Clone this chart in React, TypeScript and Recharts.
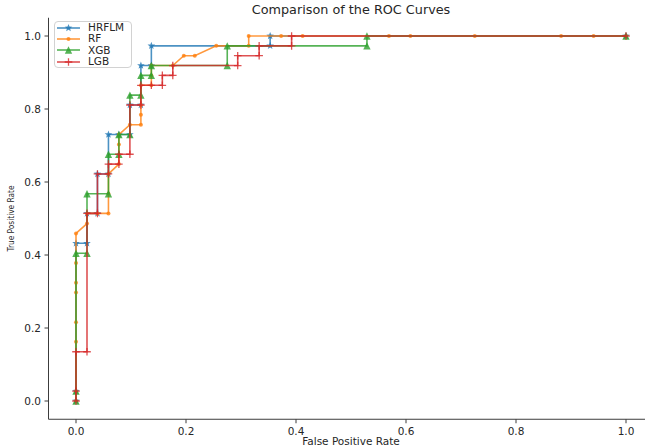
import React from 'react';
import { ScatterChart, Scatter, XAxis, YAxis, Legend } from 'recharts';

// ---- data (FPR / TPR pairs) ----
const hrflmFpr = [0, 0, 0, 0.020, 0.020, 0.039, 0.039, 0.059, 0.059, 0.078, 0.098, 0.098, 0.118, 0.118, 0.137, 0.137, 0.353, 0.353, 1];
const hrflmTpr = [0, 0.027, 0.432, 0.432, 0.514, 0.514, 0.622, 0.622, 0.730, 0.730, 0.730, 0.811, 0.811, 0.919, 0.919, 0.973, 0.973, 1, 1];

const rfFpr = [0, 0, 0, 0, 0, 0, 0, 0, 0.020, 0.020, 0.039, 0.059, 0.059, 0.059, 0.078, 0.078, 0.078, 0.098, 0.118, 0.118, 0.118, 0.118, 0.137, 0.137, 0.137, 0.176, 0.196, 0.216, 0.255, 0.314, 0.314, 0.373, 0.412, 0.569, 0.608, 0.725, 0.882, 0.941, 1];
const rfTpr = [0, 0.027, 0.162, 0.216, 0.297, 0.324, 0.378, 0.459, 0.486, 0.514, 0.514, 0.514, 0.568, 0.622, 0.649, 0.703, 0.730, 0.757, 0.757, 0.784, 0.811, 0.865, 0.865, 0.892, 0.919, 0.919, 0.946, 0.946, 0.973, 0.973, 1, 1, 1, 1, 1, 1, 1, 1, 1];

const xgbFpr = [0, 0, 0, 0.020, 0.020, 0.059, 0.059, 0.078, 0.078, 0.098, 0.098, 0.118, 0.118, 0.137, 0.137, 0.275, 0.275, 0.529, 0.529, 1];
const xgbTpr = [0, 0.027, 0.405, 0.405, 0.568, 0.568, 0.676, 0.676, 0.730, 0.730, 0.838, 0.838, 0.892, 0.892, 0.919, 0.919, 0.973, 0.973, 1, 1];

const lgbFpr = [0, 0, 0, 0.020, 0.020, 0.039, 0.039, 0.059, 0.059, 0.078, 0.078, 0.098, 0.098, 0.118, 0.118, 0.137, 0.157, 0.157, 0.176, 0.176, 0.294, 0.294, 0.333, 0.333, 0.392, 0.392, 1];
const lgbTpr = [0, 0.027, 0.135, 0.135, 0.514, 0.514, 0.622, 0.622, 0.649, 0.649, 0.676, 0.676, 0.811, 0.811, 0.865, 0.865, 0.865, 0.892, 0.892, 0.919, 0.919, 0.946, 0.946, 0.973, 0.973, 1, 1];

const seriesNames = ['HRFLM', 'RF', 'XGB', 'LGB'];
const xTicks = [0, 0.2, 0.4, 0.6, 0.8, 1.0];
const yTicks = [0, 0.2, 0.4, 0.6, 0.8, 1.0];
const titleText = 'Comparison of the ROC Curves';
const xLabelText = 'False Positive Rate';
const yLabelText = 'True Positive Rate';

const COLORS: Record<string, string> = {
  HRFLM: '#1f77b4',
  RF: '#ff7f0e',
  XGB: '#2ca02c',
  LGB: '#d62728',
};

const FONT = '"DejaVu Sans", sans-serif';
const TEXT = '#262626';
const SPINE = '#3c3c3c';
const OP = 0.8;

const toPoints = (f: number[], t: number[]) => f.map((x, i) => ({ x, y: t[i] }));

const seriesData: Record<string, { x: number; y: number }[]> = {
  HRFLM: toPoints(hrflmFpr, hrflmTpr),
  RF: toPoints(rfFpr, rfTpr),
  XGB: toPoints(xgbFpr, xgbTpr),
  LGB: toPoints(lgbFpr, lgbTpr),
};

// ---- marker glyphs ----
function starPath(cx: number, cy: number, ro: number, ri: number) {
  let d = '';
  for (let i = 0; i < 10; i++) {
    const r = i % 2 === 0 ? ro : ri;
    const a = -Math.PI / 2 + (i * Math.PI) / 5;
    d += (i === 0 ? 'M' : 'L') + (cx + r * Math.cos(a)).toFixed(2) + ',' + (cy + r * Math.sin(a)).toFixed(2);
  }
  return d + 'Z';
}

function Marker({ name, cx, cy }: { name: string; cx: number; cy: number }) {
  const c = COLORS[name];
  if (name === 'HRFLM') {
    return <path d={starPath(cx, cy, 4, 1.7)} fill={c} fillOpacity={OP} />;
  }
  if (name === 'RF') {
    return <circle cx={cx} cy={cy} r={2} fill={c} fillOpacity={OP} />;
  }
  if (name === 'XGB') {
    const s = 3.7;
    return (
      <path
        d={`M${cx},${cy - s}L${cx - s},${cy + s}L${cx + s},${cy + s}Z`}
        fill={c}
        fillOpacity={OP}
      />
    );
  }
  const s = 3.8;
  return (
    <path
      d={`M${cx - s},${cy}L${cx + s},${cy}M${cx},${cy - s}L${cx},${cy + s}`}
      stroke={c}
      strokeOpacity={OP}
      strokeWidth={1.3}
    />
  );
}

const makeShape = (name: string) => (props: any) => {
  const { cx, cy } = props;
  if (cx == null || cy == null) return <g />;
  return <Marker name={name} cx={cx} cy={cy} />;
};

const LegendBox = () => (
  <div
    style={{
      border: '1px solid #d2d2d2',
      borderRadius: 4,
      background: 'rgba(255,255,255,0.85)',
      padding: '0px 2px 0px 2px',
      fontFamily: FONT,
      fontSize: 10.5,
      color: TEXT,
      width: 72,
    }}
  >
    {seriesNames.map((name) => (
      <div key={name} style={{ display: 'flex', alignItems: 'center', height: 11.3 }}>
        <svg width={23} height={10} style={{ display: 'block' }}>
          <line x1={0} y1={5} x2={23} y2={5} stroke={COLORS[name]} strokeOpacity={OP} strokeWidth={1.6} />
          <Marker name={name} cx={11.5} cy={5} />
        </svg>
        <span style={{ marginLeft: 8, lineHeight: '11px' }}>{name}</span>
      </div>
    ))}
  </div>
);

// bottom-axis label: draws the x-axis title and the chart title
const XLabel = () => (
  <g>
    <text x={351} y={13.5} textAnchor="middle" fontSize={12.8} fill={TEXT} fontFamily={FONT}>
      {titleText}
    </text>
    <text x={351} y={444.5} textAnchor="middle" fontSize={10.5} fill={TEXT} fontFamily={FONT}>
      {xLabelText}
    </text>
  </g>
);

const YLabel = () => {
  const cx = 11;
  const cy = 218.5;
  return (
    <text
      x={cx}
      y={cy}
      transform={`rotate(-90 ${cx} ${cy})`}
      textAnchor="middle"
      dominantBaseline="central"
      fontSize={8.5}
      fill={TEXT}
      fontFamily={FONT}
      textLength={66}
      lengthAdjust="spacingAndGlyphs"
    >
      {yLabelText}
    </text>
  );
};

export default function App() {
  return (
    <div
      style={{
        position: 'absolute',
        left: 0,
        top: 0,
        width: 645,
        height: 447,
        overflow: 'hidden',
        background: '#fff',
      }}
    >
      <ScatterChart
        width={680}
        height={447}
        margin={{ top: 17.75, right: 26.5, bottom: 0, left: 8.5 }}
        style={{ fontFamily: FONT }}
      >
        <XAxis
          xAxisId={0}
          type="number"
          dataKey="x"
          domain={[-0.05, 1.05]}
          allowDataOverflow
          ticks={xTicks}
          interval={0}
          tickFormatter={(v: number) => v.toFixed(1)}
          height={27.75}
          tickSize={4}
          tickMargin={4}
          axisLine={{ stroke: SPINE, strokeWidth: 1 }}
          tickLine={{ stroke: SPINE, strokeWidth: 1 }}
          tick={{ fontSize: 10.5, fill: TEXT, fontFamily: FONT }}
          label={XLabel}
        />
        <XAxis
          xAxisId="top"
          orientation="top"
          type="number"
          domain={[-0.05, 1.05]}
          allowDataOverflow
          height={0}
          tick={false}
          tickLine={false}
          axisLine={{ stroke: SPINE, strokeWidth: 1 }}
        />
        <YAxis
          type="number"
          dataKey="y"
          domain={[-0.05, 1.05]}
          allowDataOverflow
          ticks={yTicks}
          interval={0}
          tickFormatter={(v: number) => v.toFixed(1)}
          width={40}
          tickSize={4}
          tickMargin={3.5}
          axisLine={{ stroke: SPINE, strokeWidth: 1 }}
          tickLine={{ stroke: SPINE, strokeWidth: 1 }}
          tick={{ fontSize: 10.5, fill: TEXT, fontFamily: FONT }}
          label={YLabel}
        />
        {seriesNames.map((name) => (
          <Scatter
            key={name}
            name={name}
            data={seriesData[name]}
            xAxisId={0}
            fill={COLORS[name]}
            line={{ stroke: COLORS[name], strokeWidth: 1.6, strokeOpacity: OP }}
            lineType="joint"
            lineJointType="linear"
            shape={makeShape(name)}
            isAnimationActive={false}
          />
        ))}
        <Legend
          layout="horizontal"
          verticalAlign="middle"
          align="center"
          content={LegendBox}
          wrapperStyle={{ position: 'absolute', left: 54, top: 21, width: 76, height: 'auto' }}
        />
      </ScatterChart>
    </div>
  );
}
